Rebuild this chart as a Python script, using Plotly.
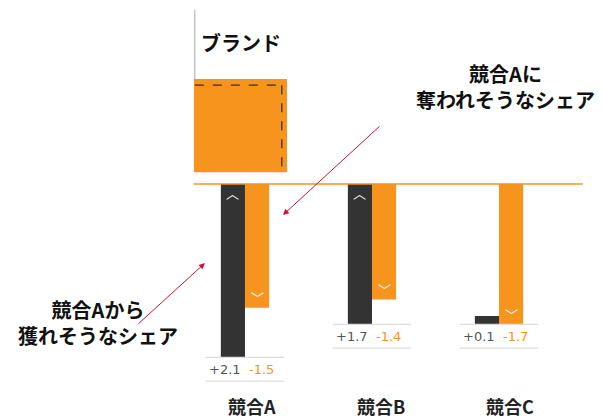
import plotly.graph_objects as go

# ---- data ----
categories = ["競合A", "競合B", "競合C"]
gains = [2.1, 1.7, 0.1]          # share we could win from each competitor
losses = [-1.5, -1.4, -1.7]      # share we could lose to each competitor
brand_label = "ブランド"
brand_share = 1.13               # size of the brand block (same units)
note_lost = "競合Aに<br>奪われそうなシェア"
note_won = "競合Aから<br>獲れそうなシェア"

ORANGE = "#F7941D"
DARK = "#333333"
GREY_TXT = "#555555"
RED = "#D0103A"
FONT = "Noto Sans CJK JP"
NUMFONT = "DejaVu Sans"

n = len(categories)
xs = list(range(n))
loss_abs = [abs(v) for v in losses]
# dark bar floats so it ends at the loss depth when gain is smaller than loss
gain_base = [max(0.0, l - g) for g, l in zip(gains, loss_abs)]
depth = [max(g + b, l) for g, b, l in zip(gains, gain_base, loss_abs)]

bw = 0.19
fig = go.Figure()

# brand block
brand_top = -1.273
fig.add_trace(go.Bar(x=[0], y=[brand_share], base=[brand_top], width=0.733, offset=-0.402,
                     marker=dict(color=ORANGE, line=dict(width=0)), hoverinfo="skip"))
# gains (dark) and losses (orange)
fig.add_trace(go.Bar(x=xs, y=gains, base=gain_base, width=bw, offset=-bw,
                     marker=dict(color=DARK, line=dict(width=0)), hoverinfo="skip"))
fig.add_trace(go.Bar(x=xs, y=loss_abs, base=[0] * n, width=bw, offset=0,
                     marker=dict(color=ORANGE, line=dict(width=0)), hoverinfo="skip"))

shapes = []
# baseline
shapes.append(dict(type="line", xref="x", yref="y", x0=-0.402, x1=2.66, y0=0, y1=0,
                   line=dict(color=ORANGE, width=1.5)))
# vertical grey line above brand block
shapes.append(dict(type="line", xref="x", yref="y", x0=-0.395, x1=-0.395, y0=-2.11, y1=brand_top,
                   line=dict(color="#AAAAAA", width=1)))
# dashed top and right edges inside the brand block
dx0, dx1 = -0.395, 0.29
dy0, dy1 = brand_top + 0.075, brand_top + brand_share - 0.035
shapes.append(dict(type="line", xref="x", yref="y", x0=dx0, x1=dx1, y0=dy0, y1=dy0,
                   line=dict(color="#333333", width=1.3, dash="dash")))
shapes.append(dict(type="line", xref="x", yref="y", x0=dx1, x1=dx1, y0=dy0, y1=dy1,
                   line=dict(color="#333333", width=1.3, dash="dash")))

annotations = []
for i in xs:
    d = depth[i]
    for yy in (d, d + 0.29):
        shapes.append(dict(type="line", xref="x", yref="y", x0=i - 0.31, x1=i + 0.31, y0=yy, y1=yy,
                           line=dict(color="#DDDDDD", width=1.2)))
    annotations.append(dict(x=i - 0.012, y=d + 0.145, xref="x", yref="y", text=f"+{gains[i]:.1f}",
                            showarrow=False, xanchor="right", yanchor="middle",
                            font=dict(family=NUMFONT, size=13, color=GREY_TXT)))
    annotations.append(dict(x=i + 0.012, y=d + 0.145, xref="x", yref="y", text=f"{losses[i]:.1f}",
                            showarrow=False, xanchor="left", yanchor="middle",
                            font=dict(family=NUMFONT, size=13, color=ORANGE)))
    annotations.append(dict(x=i * 1.016 + 0.055, y=0, xref="x", yref="paper", text=f"<b>{categories[i]}</b>",
                            showarrow=False, xanchor="center", yanchor="bottom", yshift=-2,
                            font=dict(family=FONT, size=18, color="#222222")))
    # chevrons
    if gains[i] >= 0.5:
        annotations.append(dict(x=-bw / 2 + i, y=gain_base[i] + 0.1, xref="x", yref="y", text="︿",
                                showarrow=False, xanchor="center", yanchor="middle",
                                font=dict(family=FONT, size=13, color="white")))
    annotations.append(dict(x=bw / 2 + i, y=loss_abs[i] - 0.12, xref="x", yref="y", text="﹀",
                            showarrow=False, xanchor="center", yanchor="middle",
                            font=dict(family=FONT, size=13, color="white")))

annotations.append(dict(x=-0.36, y=-1.72, xref="x", yref="y", text=f"<b>{brand_label}</b>",
                        showarrow=False, xanchor="left", yanchor="middle",
                        font=dict(family=FONT, size=20, color="#111111")))
annotations.append(dict(x=2.05, y=-1.18, xref="x", yref="y", text=f"<b>{note_lost}</b>",
                        showarrow=False, xanchor="center", yanchor="middle",
                        font=dict(family=FONT, size=20, color="#111111")))
annotations.append(dict(x=-1.16, y=1.68, xref="x", yref="y", text=f"<b>{note_won}</b>",
                        showarrow=False, xanchor="center", yanchor="middle",
                        font=dict(family=FONT, size=20, color="#111111")))
# arrows
annotations.append(dict(x=0.299, y=0.376, ax=1.071, ay=-0.715, xref="x", yref="y", axref="x", ayref="y",
                        text="", showarrow=True, arrowhead=2, arrowsize=1.2, arrowwidth=1, arrowcolor=RED))
annotations.append(dict(x=-0.315, y=0.958, ax=-0.85, ay=1.709, xref="x", yref="y", axref="x", ayref="y",
                        text="", showarrow=True, arrowhead=2, arrowsize=1.2, arrowwidth=1, arrowcolor=RED))

fig.update_layout(
    width=603, height=419,
    margin=dict(l=0, r=0, t=0, b=0),
    paper_bgcolor="white", plot_bgcolor="white",
    showlegend=False, barmode="overlay",
    xaxis=dict(range=[-1.929, 2.819], visible=False, fixedrange=True),
    yaxis=dict(range=[2.848, -2.230], visible=False, fixedrange=True),
    shapes=shapes, annotations=annotations,
)

fig.write_html("out.html")
